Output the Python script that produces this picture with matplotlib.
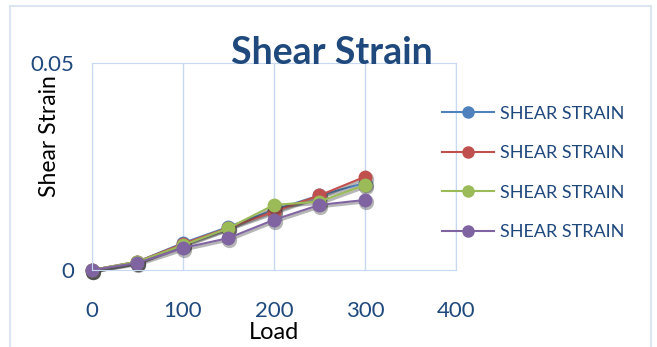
import matplotlib
matplotlib.use("Agg")
from matplotlib import pyplot as plt
from matplotlib import transforms
from matplotlib.patches import Rectangle

plt.rcParams['font.family'] = ['Lato', 'DejaVu Sans']

load = [0, 50, 100, 150, 200, 250, 300]
strain_a = [0, 0.0020, 0.0065, 0.0104, 0.0145, 0.0180, 0.0210]
strain_b = [0, 0.0020, 0.0063, 0.0102, 0.0141, 0.0180, 0.0225]
strain_c = [0, 0.0020, 0.0060, 0.0101, 0.0157, 0.0165, 0.0205]
strain_d = [0, 0.0017, 0.0053, 0.0077, 0.0121, 0.0157, 0.0169]
series_labels = ["SHEAR STRAIN"] * 4
colors = ["#4F81BD", "#C0504D", "#9BBB59", "#8064A2"]

navy = "#1F497D"
pale = "#C6D9F1"

fig = plt.figure(figsize=(6.57, 3.47), dpi=100)
ax = fig.add_axes([0.140, 0.222, 0.554, 0.597])

# soft drop shadow under each series, then the series itself
shade = transforms.offset_copy(ax.transData, fig=fig, x=1.0, y=-2.0, units="dots")
for ys, c, lab in zip([strain_a, strain_b, strain_c, strain_d], colors, series_labels):
    ax.plot(load, ys, color="#303030", lw=2, marker="o", markersize=11,
            markeredgewidth=0, alpha=0.35, transform=shade, clip_on=False)
    ax.plot(load, ys, color=c, lw=1.5, marker="o", markersize=10,
            markeredgewidth=0, label=lab, clip_on=False)

ax.set_xlim(0, 400)
ax.set_ylim(0, 0.05)
ax.set_xticks([0, 100, 200, 300, 400])
ax.set_yticks([0, 0.05])
ax.set_yticklabels(["0", "0.05"])
ax.tick_params(length=0, labelsize=16, labelcolor=navy)
ax.tick_params(axis="x", pad=22)
ax.tick_params(axis="y", pad=13)
ax.grid(axis="x", color=pale, lw=1)
ax.set_axisbelow(True)
for s in ax.spines.values():
    s.set_color(pale)

ax.text(0.50, -0.30, "Load", fontsize=17, color="black", ha="center", va="center",
        transform=ax.transAxes)
ax.set_ylabel("Shear Strain", fontsize=16.5, color="black")
ax.yaxis.set_label_coords(-0.087, 0.647)

fig.text(0.505, 0.848, "Shear Strain", fontsize=27, fontweight="bold",
         color=navy, ha="center", va="center")

handles = [h for h in ax.get_lines() if h.get_label() == "SHEAR STRAIN"]
leg = fig.legend(handles, series_labels, loc="center left", bbox_to_anchor=(0.648, 0.502),
                 frameon=False, fontsize=13, labelspacing=1.30, handlelength=2.9,
                 handletextpad=0.3, markerscale=0.9)
for t in leg.get_texts():
    t.set_color(navy)

fig.patches.append(Rectangle((10 / 657, -0.1), 641 / 657, 1.1 - 6 / 347,
                             transform=fig.transFigure, fill=False,
                             edgecolor="#DCE6F2", lw=1.5))

fig.savefig("out.png", dpi=100)
